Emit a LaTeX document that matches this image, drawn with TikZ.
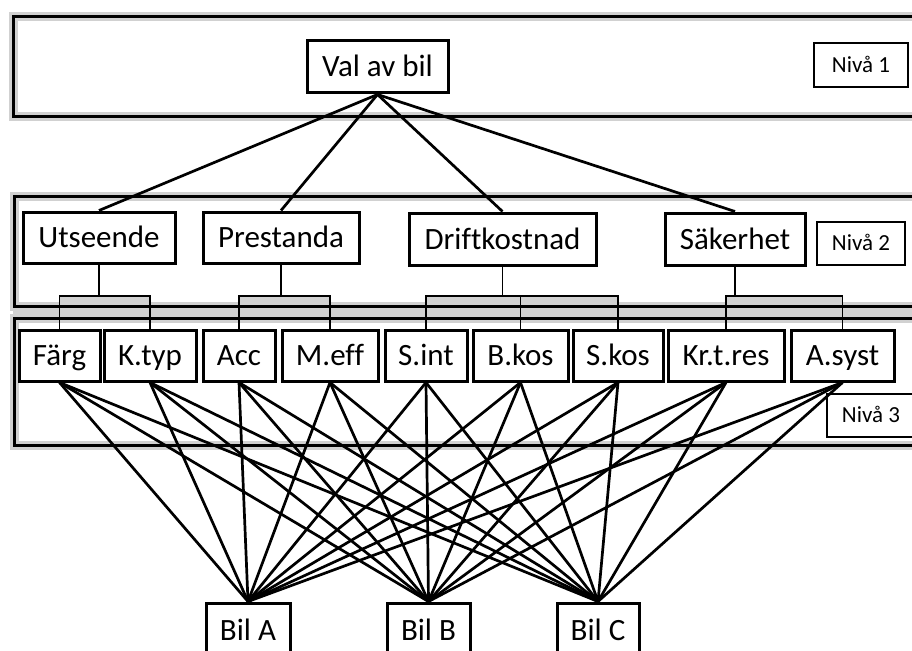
\documentclass[tikz,border=0pt]{standalone}
\usepackage{fontspec}
\setmainfont{Carlito}[Ligatures=NoCommon]
\usepackage{tikz}
\usetikzlibrary{positioning, backgrounds}
\tikzstyle{level} = [rectangle, draw=black, line width=2.8pt, inner sep=0pt, anchor=north west, preaction={draw=black!18, line width=9pt}]
\tikzstyle{crit} = [rectangle, draw=black, line width=3pt, fill=white, inner sep=0pt, minimum height=51pt, text height=20pt, text depth=0pt, font=\fontsize{31}{36}\selectfont]
\tikzstyle{tag} = [rectangle, draw=black, line width=2.6pt, fill=white, inner sep=0pt, minimum width=88pt, minimum height=43pt, text height=14.8pt, text depth=0pt, font=\fontsize{23}{28}\selectfont]
\tikzstyle{link} = [line width=2.7pt]
\tikzstyle{bracket} = [line width=1.4pt]

\begin{document}
\begin{tikzpicture}[x=1pt, y=-1pt]
                \clip (0,0) rectangle (912,650);
                % the three levels
                \node (lvl1) [level, minimum width=930pt, minimum height=100pt] at (12,15) {};
                \node (lvl2) [level, minimum width=930pt, minimum height=110pt] at (13,195) {};
                \node (lvl3) [level, minimum width=930pt, minimum height=127pt] at (13,317) {};

                \node (val) [crit, minimum width=141pt, minimum height=52pt] at (377.5,67) {Val av bil};
                \node (niva1) [tag, minimum width=94pt, minimum height=44pt] at (861,65) {Nivå 1};

                \node (utseende) [crit, minimum width=152pt] at (99,237.5) {Utseende};
                \node (prestanda) [crit, minimum width=156pt] at (281,237.5) {Prestanda};
                \node (drift) [crit, minimum width=187pt, minimum height=52pt] at (502.5,239) {Driftkostnad};
                \node (sakerhet) [crit, minimum width=140pt, minimum height=52pt] at (735,239) {Säkerhet};
                \node (niva2) [tag] at (861,243.5) {Nivå 2};

                \node (farg) [crit, minimum width=81pt] at (59.5,355.5) {Färg};
                \node (ktyp) [crit, minimum width=92pt] at (150,355.5) {K.typ};
                \node (acc) [crit, minimum width=72pt] at (239,355.5) {Acc};
                \node (meff) [crit, minimum width=96pt] at (330,355.5) {M.eff};
                \node (sint) [crit, minimum width=82pt] at (426,355.5) {S.int};
                \node (bkos) [crit, minimum width=95pt] at (520.5,355.5) {B.kos};
                \node (skos) [crit, minimum width=90pt] at (618,355.5) {S.kos};
                \node (krtres) [crit, minimum width=116pt] at (726,355.5) {Kr.t.res};
                \node (asyst) [crit, minimum width=103pt] at (842.5,355.5) {A.syst};
                \node (niva3) [tag] at (871,415.5) {Nivå 3};

                \node (bila) [crit, minimum width=84pt, minimum height=54pt] at (248,630) {Bil A};
                \node (bilb) [crit, minimum width=83pt, minimum height=54pt] at (428.5,630) {Bil B};
                \node (bilc) [crit, minimum width=82pt, minimum height=54pt] at (598,630) {Bil C};

                \coordinate (bar) at (0,296);

                % goal to criteria
                \draw [link] (val.south) -- (utseende.north);
                \draw [link] (val.south) -- (prestanda.north);
                \draw [link] (val.south) -- (drift.north);
                \draw [link] (val.south) -- (sakerhet.north);

                % criteria to sub-criteria
                \draw [bracket] (utseende.south) -- (utseende.south |- bar) -| (farg.north);
                \draw [bracket] (utseende.south) -- (utseende.south |- bar) -| (ktyp.north);
                \draw [bracket] (prestanda.south) -- (prestanda.south |- bar) -| (acc.north);
                \draw [bracket] (prestanda.south) -- (prestanda.south |- bar) -| (meff.north);
                \draw [bracket] (drift.south) -- (drift.south |- bar) -| (sint.north);
                \draw [bracket] (drift.south) -- (drift.south |- bar) -| (bkos.north);
                \draw [bracket] (drift.south) -- (drift.south |- bar) -| (skos.north);
                \draw [bracket] (sakerhet.south) -- (sakerhet.south |- bar) -| (krtres.north);
                \draw [bracket] (sakerhet.south) -- (sakerhet.south |- bar) -| (asyst.north);

                % sub-criteria to alternatives
                \foreach \c in {farg, ktyp, acc, meff, sint, bkos, skos, krtres, asyst}
                    \foreach \b in {bila, bilb, bilc}
                        \draw [link] (\c.south) -- (\b.north);

                \begin{scope}[on background layer]
                    \fill [black!18] (lvl2.south west) rectangle (lvl3.north east);
                    \fill [black!18] (farg.north |- bar) rectangle (ktyp.north |- lvl2.south);
                    \fill [black!18] (acc.north |- bar) rectangle (meff.north |- lvl2.south);
                    \fill [black!18] (sint.north |- bar) rectangle (skos.north |- lvl2.south);
                    \fill [black!18] (krtres.north |- bar) rectangle (asyst.north |- lvl2.south);
                \end{scope}
                \end{tikzpicture}
\end{document}
